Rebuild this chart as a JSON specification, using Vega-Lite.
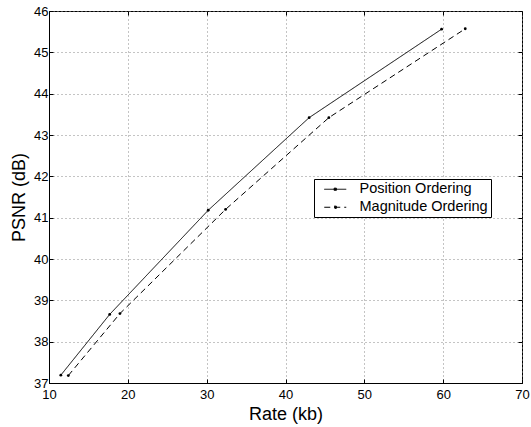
{
  "$schema": "https://vega.github.io/schema/vega-lite/v6.json",
  "width": 473,
  "height": 372,
  "autosize": "none",
  "padding": {"left": 49, "top": 11, "right": 9, "bottom": 44},
  "background": "white",
  "config": {
    "view": {"stroke": "black", "strokeWidth": 1},
    "font": "Liberation Sans, Arial, sans-serif",
    "axis": {
      "domainColor": "black",
      "tickColor": "black",
      "labelColor": "black",
      "titleColor": "black",
      "labelFont": "Liberation Sans, Arial, sans-serif",
      "titleFont": "Liberation Sans, Arial, sans-serif",
      "labelFontSize": 13,
      "titleFontSize": 18,
      "titleFontWeight": "normal",
      "tickSize": -4,
      "gridColor": "#888888",
      "gridDash": [1, 3],
      "gridOpacity": 1
    }
  },
  "data": {
    "values": [
      {"series": "Position Ordering", "rate": 11.5, "psnr": 37.19},
      {"series": "Position Ordering", "rate": 17.7, "psnr": 38.66},
      {"series": "Position Ordering", "rate": 30.2, "psnr": 41.18},
      {"series": "Position Ordering", "rate": 43.0, "psnr": 43.42},
      {"series": "Position Ordering", "rate": 59.8, "psnr": 45.56},
      {"series": "Magnitude Ordering", "rate": 12.45, "psnr": 37.18},
      {"series": "Magnitude Ordering", "rate": 19.0, "psnr": 38.68},
      {"series": "Magnitude Ordering", "rate": 32.4, "psnr": 41.2},
      {"series": "Magnitude Ordering", "rate": 45.5, "psnr": 43.42},
      {"series": "Magnitude Ordering", "rate": 62.8, "psnr": 45.57}
    ]
  },
  "layer": [
    {
      "mark": {"type": "line", "color": "black", "strokeWidth": 1},
      "encoding": {
        "x": {
          "field": "rate", "type": "quantitative",
          "scale": {"domain": [10, 70], "nice": false, "zero": false},
          "axis": {"values": [10, 20, 30, 40, 50, 60, 70], "title": "Rate (kb)", "labelPadding": 9, "titlePadding": 4, "grid": true, "domain": true, "labelFlush": false}
        },
        "y": {
          "field": "psnr", "type": "quantitative",
          "scale": {"domain": [37, 46], "nice": false, "zero": false},
          "axis": {"values": [37, 38, 39, 40, 41, 42, 43, 44, 45, 46], "title": "PSNR (dB)", "labelPadding": 5, "titlePadding": 5, "grid": true, "labelFlush": false}
        },
        "strokeDash": {
          "field": "series", "type": "nominal",
          "scale": {"domain": ["Position Ordering", "Magnitude Ordering"], "range": [[1, 0], [6, 4]]},
          "legend": {
            "title": null, "orient": "none", "legendX": 265, "legendY": 168,
            "strokeColor": "black", "fillColor": "white", "padding": 3,
            "symbolType": "M-2,0H2M-0.2,-0.2H0.2V0.2H-0.2Z", "symbolSize": 121, "symbolStrokeColor": "black", "symbolStrokeWidth": 1, "symbolOpacity": 1, "symbolOffset": 11,
            "labelFontSize": 14.5, "labelFont": "Liberation Sans, Arial, sans-serif", "labelColor": "black", "rowPadding": 3, "labelOffset": 17,
            "encode": {"symbols": {"update": {"stroke": {"value": "black"}, "fill": {"value": "black"}, "strokeWidth": {"value": 1}, "opacity": {"value": 1}, "strokeOpacity": {"value": 1}}}}
          }
        },
        "order": {"field": "rate"}
      }
    },
    {
      "mark": {"type": "point", "filled": true, "size": 8, "color": "black", "opacity": 1},
      "encoding": {
        "x": {"field": "rate", "type": "quantitative", "axis": {"orient": "top", "values": [10, 20, 30, 40, 50, 60, 70], "labels": false, "title": null, "grid": false, "domain": false}},
        "y": {"field": "psnr", "type": "quantitative", "axis": {"orient": "right", "values": [37, 38, 39, 40, 41, 42, 43, 44, 45, 46], "labels": false, "title": null, "grid": false, "domain": false}}
      }
    }
  ],
  "resolve": {"axis": {"x": "independent", "y": "independent"}}
}
